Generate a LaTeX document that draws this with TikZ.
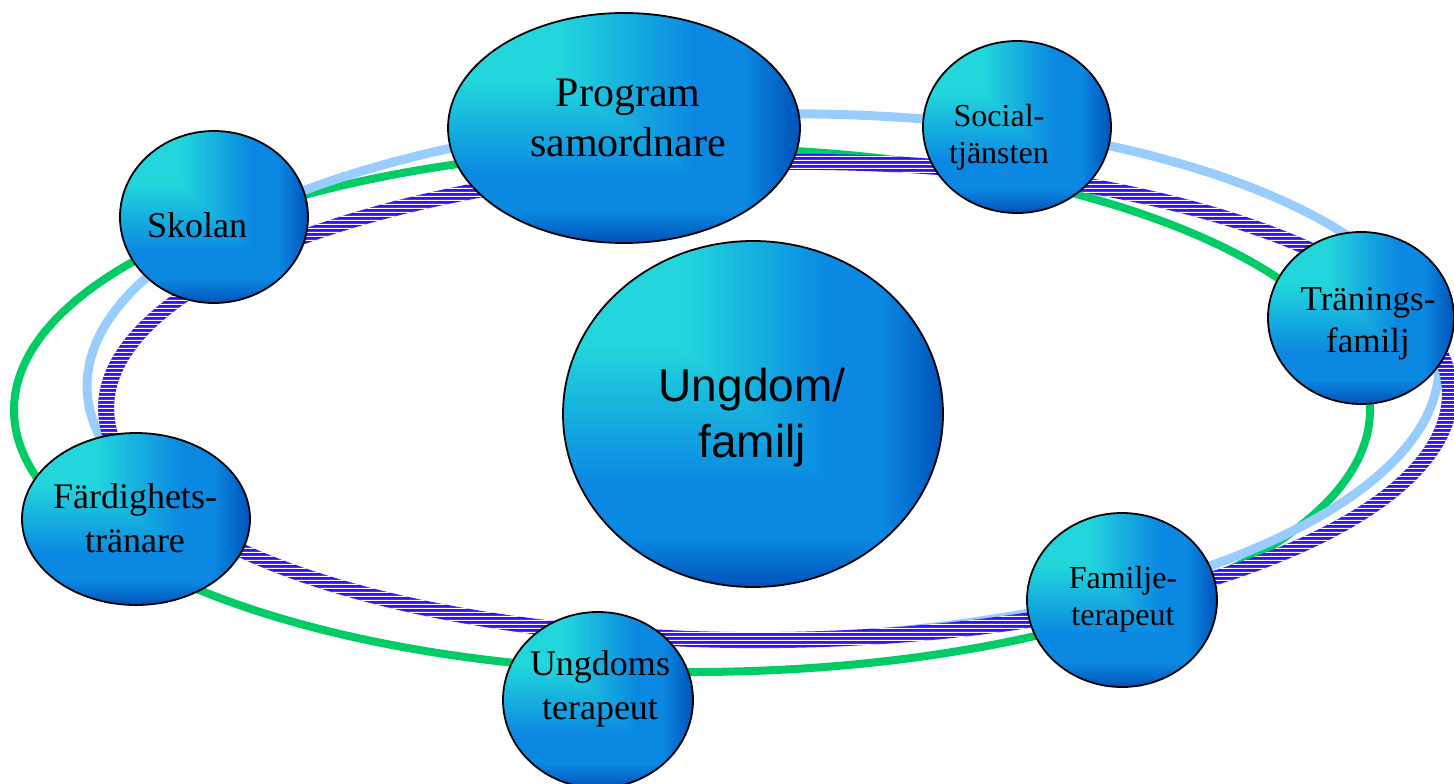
\documentclass[tikz,border=0pt]{standalone}
\usepackage{fontspec}
\setmainfont{Liberation Serif}
\newfontfamily\ungfont{Liberation Sans}
\usetikzlibrary{shapes.geometric,patterns}

\definecolor{bubcyan}{RGB}{34,214,220}
\definecolor{bubblue}{RGB}{10,136,226}
\definecolor{bubdark}{RGB}{0,82,184}
\definecolor{ringgreen}{RGB}{0,204,102}
\definecolor{ringlight}{RGB}{153,204,255}
\definecolor{ringband}{RGB}{51,17,255}

% colour runs from the top left corner: across in the upper half, down in the lower half
% (tikz fits the middle 25bp--75bp of a shading to the path)
\pgfdeclarehorizontalshading{bubbleh}{100bp}{color(0bp)=(bubcyan); color(41bp)=(bubcyan); color(60bp)=(bubblue); color(67bp)=(bubblue); color(75bp)=(bubdark); color(100bp)=(bubdark)}
\pgfdeclareverticalshading{bubblev}{100bp}{color(0bp)=(bubdark); color(25bp)=(bubdark); color(32bp)=(bubblue); color(40bp)=(bubblue); color(60bp)=(bubcyan); color(100bp)=(bubcyan)}
\pgfdeclarepatternformonly{bandlines}{\pgfpointorigin}{\pgfpoint{10pt}{4.4pt}}{\pgfpoint{10pt}{4.4pt}}{\pgfpathrectangle{\pgfpoint{-1pt}{0pt}}{\pgfpoint{12pt}{1.3pt}}\pgfusepath{fill}}

\begin{document}
\begin{tikzpicture}[x=1pt,y=-1pt,
  bubble/.style={ellipse, draw=black, line width=1.8pt, inner sep=0pt,
    path picture={
      \shade[shading=bubbleh] (path picture bounding box.south west) rectangle (path picture bounding box.north east);
      \clip (path picture bounding box.north west) -- (path picture bounding box.south west)
        -- (path picture bounding box.south east) -- cycle;
      \shade[shading=bubblev] (path picture bounding box.south west) rectangle (path picture bounding box.north east);
    }},
  serif text/.style={align=center, inner sep=0pt},
  greenring/.style={draw=ringgreen, line width=8pt},
  lightring/.style={draw=ringlight, line width=9pt},
  bandring/.style={fill=ringband, even odd rule, postaction={pattern=bandlines, pattern color=white}}]
  \useasboundingbox (0,0) rectangle (1454,784);
  %[every node/.style={draw=black}]
  % the three rings
  \draw[greenring] (692,410) ellipse [x radius=678, y radius=262];
  \draw[lightring, rotate around={1:(763,376)}] (763,376) ellipse [x radius=676, y radius=262];
  \path[bandring, rotate around={0.7:(778,401)}] (778,401) ellipse [x radius=680, y radius=247]
    (778,401) ellipse [x radius=664, y radius=231];
  % bubbles
  \node[bubble, minimum width=352pt, minimum height=230pt] (prog) at (624,128) {};
  \node[bubble, minimum width=188pt, minimum height=172pt] (social) at (1017,127) {};
  \node[bubble, minimum width=188pt, minimum height=172pt] (skolan) at (214,217) {};
  \node[bubble, minimum width=186pt, minimum height=172pt] (tranings) at (1361,318) {};
  \node[bubble, minimum width=380pt, minimum height=346pt] (ungdom) at (753,414) {};
  \node[bubble, minimum width=228pt, minimum height=172pt] (fard) at (136,519) {};
  \node[bubble, minimum width=190pt, minimum height=176pt] (ungdoms) at (598,700) {};
  \node[bubble, minimum width=190pt, minimum height=174pt] (familje) at (1122,600) {};
  % texts
  \node[serif text, font=\fontsize{42}{50}\selectfont] (progtext) at (628,118) {Program\\samordnare};
  \node[serif text, font=\fontsize{32}{37}\selectfont] (socialtext) at (999,137) {Social-\\tjänsten};
  \node[serif text, font=\fontsize{36}{44}\selectfont] (skolantext) at (197,225) {Skolan};
  \node[serif text, font=\fontsize{35}{42}\selectfont] (traningstext) at (1368,324) {Tränings-\\familj};
  \node[serif text, font=\ungfont\fontsize{46}{56}\selectfont] (ungdomtext) at (752,418) {Ungdom/\\familj};
  \node[serif text, font=\fontsize{36}{44}\selectfont] (fardtext) at (135,518) {Färdighets-\\tränare};
  \node[serif text, font=\fontsize{36}{44}\selectfont] (ungdomstext) at (600,689) {Ungdoms\\terapeut};
  \node[serif text, font=\fontsize{32}{37}\selectfont] (familjetext) at (1123,599) {Familje-\\terapeut};
\end{tikzpicture}
\end{document}
